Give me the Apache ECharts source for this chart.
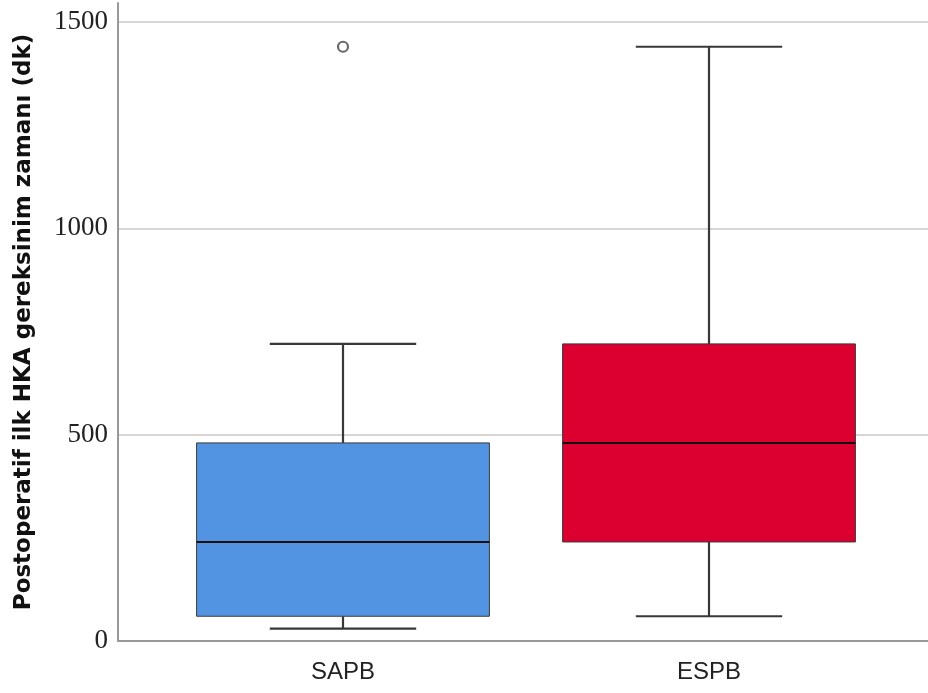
<!DOCTYPE html>
<html>
<head>
<meta charset="utf-8">
<script src="https://cdn.jsdelivr.net/npm/echarts@6/dist/echarts.min.js"></script>
<style>html,body{margin:0;padding:0;background:#fff}#c{width:928px;height:693px}</style>
</head>
<body>
<div id="c"></div>
<script>
// Data
var categories = ['SAPB', 'ESPB'];
var boxMin    = [30, 60];
var boxQ1     = [60, 240];
var boxMedian = [240, 480];
var boxQ3     = [480, 720];
var boxMax    = [720, 1440];
var outliers  = [[0, 1440]];
var boxColors = ['#5294E2', '#DC0030'];
var yTicks = [0, 500, 1000, 1500];
var yTitle = 'Postoperatif ilk HKA gereksinim zamanı (dk)';

var boxData = categories.map(function (c, i) {
  return [i, boxMin[i], boxQ1[i], boxMedian[i], boxQ3[i], boxMax[i]];
});

function renderBox(params, api) {
  var idx = api.value(0);
  var lo = api.coord([idx, api.value(1)]);
  var q1 = api.coord([idx, api.value(2)]);
  var md = api.coord([idx, api.value(3)]);
  var q3 = api.coord([idx, api.value(4)]);
  var hi = api.coord([idx, api.value(5)]);
  var band = api.size([1, 0])[0];
  var bw = band * 0.8;
  var cw = bw / 2;
  var x = lo[0];
  var wStyle = { stroke: '#383838', lineWidth: 2.2 };
  return {
    type: 'group',
    children: [
      { type: 'line', shape: { x1: x, y1: q3[1], x2: x, y2: hi[1] }, style: wStyle },
      { type: 'line', shape: { x1: x, y1: q1[1], x2: x, y2: lo[1] }, style: wStyle },
      { type: 'line', shape: { x1: x - cw / 2, y1: hi[1], x2: x + cw / 2, y2: hi[1] }, style: wStyle },
      { type: 'line', shape: { x1: x - cw / 2, y1: lo[1], x2: x + cw / 2, y2: lo[1] }, style: wStyle },
      { type: 'rect', shape: { x: x - bw / 2, y: q3[1], width: bw, height: q1[1] - q3[1] },
        style: { fill: boxColors[idx], stroke: '#3a3a3a', lineWidth: 1 } },
      { type: 'line', shape: { x1: x - bw / 2, y1: md[1], x2: x + bw / 2, y2: md[1] },
        style: { stroke: '#111', lineWidth: 2 } }
    ]
  };
}

var chart = echarts.init(document.getElementById('c'));
chart.setOption({
  backgroundColor: '#fff',
  animation: false,
  grid: [
    { left: 118, right: 0, top: 3, bottom: 52 },   // axis lines + title
    { left: 160, right: 36, top: 22, bottom: 52 }, // boxes
    { left: 118, right: 0, top: 22, bottom: 52 }   // gridlines + tick labels
  ],
  xAxis: [
    { gridIndex: 0, type: 'value', min: 0, max: 1,
      axisLine: { show: true, lineStyle: { color: '#999', width: 2 } },
      axisTick: { show: false }, axisLabel: { show: false }, splitLine: { show: false } },
    { gridIndex: 1, type: 'category', data: categories,
      axisLine: { show: false }, axisTick: { show: false }, splitLine: { show: false },
      axisLabel: { color: '#222', fontFamily: 'Liberation Sans, Arial, sans-serif', fontSize: 24, margin: 19 } },
    { gridIndex: 2, type: 'value', min: 0, max: 1, show: false }
  ],
  yAxis: [
    { gridIndex: 0, type: 'value', min: 0, max: 1546,
      name: yTitle, nameLocation: 'middle', nameGap: 82,
      nameTextStyle: { color: '#111', fontFamily: 'DejaVu Sans, Verdana, sans-serif', fontWeight: 'bold', fontSize: 23 },
      axisLine: { show: true, lineStyle: { color: '#999', width: 2 } },
      axisTick: { show: false }, axisLabel: { show: false }, splitLine: { show: false } },
    { gridIndex: 1, type: 'value', min: 0, max: 1500, show: false, splitLine: { show: false } },
    { gridIndex: 2, type: 'value', min: yTicks[0], max: yTicks[yTicks.length - 1], interval: 500,
      axisLine: { show: false }, axisTick: { show: false },
      axisLabel: { color: '#222', fontFamily: 'Liberation Serif, Times New Roman, serif', fontSize: 27, margin: 10,
        padding: [6, 0, 0, 0],
        formatter: function (v) { return String(v); } },
      splitLine: { show: true, lineStyle: { color: '#d6d6d6', width: 2 } } }
  ],
  series: [
    { type: 'custom', xAxisIndex: 1, yAxisIndex: 1, renderItem: renderBox, data: boxData, z: 3 },
    { type: 'scatter', xAxisIndex: 1, yAxisIndex: 1, data: outliers, symbol: 'circle', symbolSize: 10,
      itemStyle: { color: '#fff', borderColor: '#444', borderWidth: 2.2 }, z: 4 }
  ]
});
</script>
</body>
</html>
